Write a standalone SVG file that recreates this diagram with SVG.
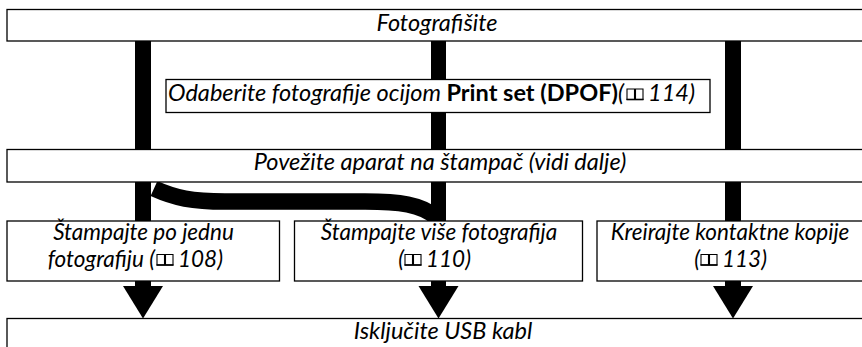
<svg xmlns="http://www.w3.org/2000/svg" width="862" height="347" viewBox="0 0 862 347">
<defs>
<style>
.box{fill:#fff;stroke:#000;stroke-width:1.3}
.t{font-family:Lato,"Liberation Sans",Arial,sans-serif;font-style:italic;font-size:23.5px;fill:#000}
.s{font-size:22.5px}
.m{text-anchor:middle}
.e{text-anchor:end}
.b{font-weight:bold;font-style:normal}
.bar{fill:#000}
.bk{fill:none;stroke:#000;stroke-width:1.1}
</style>
<g id="book">
<path class="bk" d="M0.5 0.5h7.5v10.5h-7.5z M9 0.5h7.5v10.5h-7.5z"/>
<rect x="0" y="10.2" width="17" height="1.6" fill="#000"/>
</g>
</defs>
<rect width="862" height="347" fill="#fff"/>
<g id="connectors">
<rect class="bar" x="135" y="41" width="16" height="108"/>
<rect class="bar" x="431" y="41" width="15" height="108"/>
<rect class="bar" x="725" y="41" width="16" height="108"/>
<rect class="bar" x="135" y="182" width="16" height="39"/>
<rect class="bar" x="431" y="182" width="15" height="39"/>
<rect class="bar" x="725" y="182" width="16" height="39"/>
<path d="M154 188.5 C175 198 192 201.5 225 201.5 L365 201.5 C398 201.5 422 204 437 218" fill="none" stroke="#000" stroke-width="16.5"/>
<rect class="bar" x="135" y="281" width="16" height="6"/>
<polygon class="bar" points="123,286 163,286 143,318.5"/>
<rect class="bar" x="431" y="281" width="15" height="6"/>
<polygon class="bar" points="418.5,286 458.5,286 438.5,318.5"/>
<rect class="bar" x="725" y="281" width="16" height="6"/>
<polygon class="bar" points="713,286 753,286 733,318.5"/>
</g>
<g id="n1">
<rect class="box" x="7" y="9.5" width="880" height="31.5"/>
<text class="t m" x="437" y="31">Fotografišite</text>
</g>
<g id="n2">
<rect class="box" x="166" y="79.5" width="544" height="33"/>
<text class="t e" x="624" y="101">Odaberite fotografije ocijom <tspan class="b">Print set (DPOF)</tspan>(</text>
<use href="#book" x="626.5" y="88.5"/>
<text class="t" x="648" y="101">114)</text>
</g>
<g id="n3">
<rect class="box" x="7" y="149.5" width="880" height="32.5"/>
<text class="t m" x="440" y="170">Povežite aparat na štampač (vidi dalje)</text>
</g>
<g id="n4">
<rect class="box" x="7" y="221" width="272.5" height="60"/>
<text class="t s m" x="143.5" y="240">Štampajte po jednu</text>
<text class="t s e" x="155" y="266.5">fotografiju (</text>
<use href="#book" x="156.5" y="254"/>
<text class="t s" x="178" y="266.5">108)</text>
</g>
<g id="n5">
<rect class="box" x="294.5" y="221" width="288" height="60"/>
<text class="t s m" x="439" y="240">Štampajte više fotografija</text>
<text class="t s e" x="404" y="266.5">(</text>
<use href="#book" x="404.5" y="254"/>
<text class="t s" x="426" y="266.5">110)</text>
</g>
<g id="n6">
<rect class="box" x="597" y="221" width="290" height="60"/>
<text class="t s m" x="730" y="240">Kreirajte kontaktne kopije</text>
<text class="t s e" x="700" y="266.5">(</text>
<use href="#book" x="700.5" y="254"/>
<text class="t s" x="722" y="266.5">113)</text>
</g>
<g id="n7">
<rect class="box" x="7" y="318.5" width="880" height="40"/>
<text class="t m" x="443" y="339">Isključite USB kabl</text>
</g>
</svg>
